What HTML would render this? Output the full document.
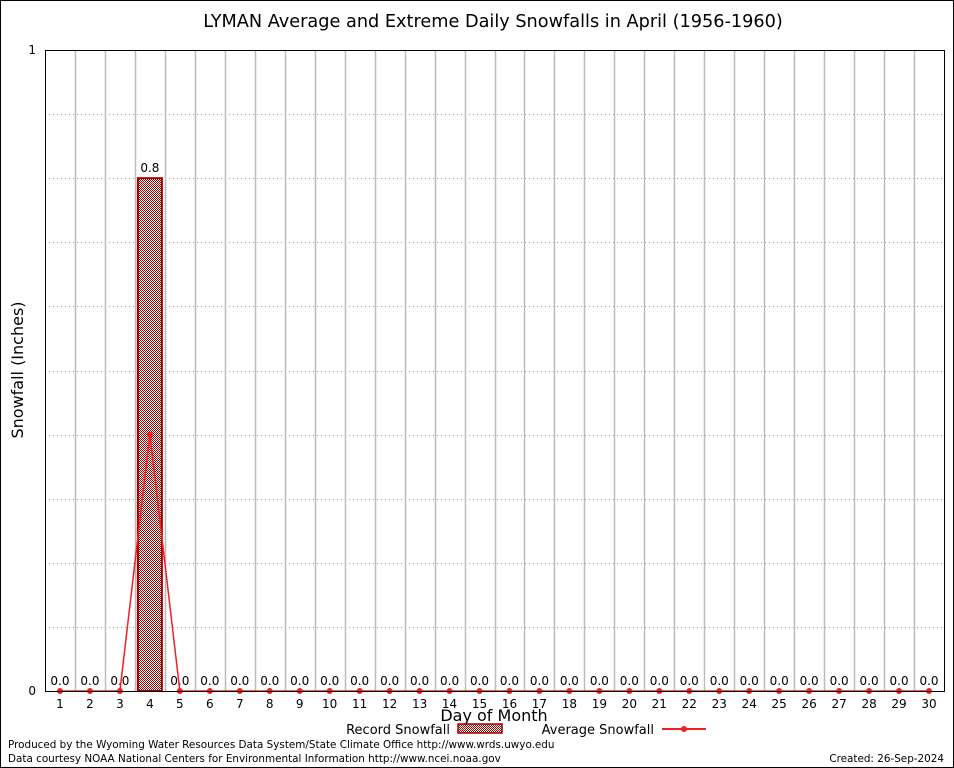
<!DOCTYPE html>
<html><head><meta charset="utf-8"><style>
html,body{margin:0;padding:0;background:#fff}
svg{display:block}
text{font-family:"DejaVu Sans","Liberation Sans",sans-serif}
</style></head><body>
<svg id="chart" width="954" height="768" viewBox="0 0 954 768">
<defs>
<pattern id="hatch" width="2" height="2" patternUnits="userSpaceOnUse">
<rect width="2" height="2" fill="#fff"/>
<rect x="0" y="0" width="1" height="1" fill="#a00000"/>
<rect x="1" y="1" width="1" height="1" fill="#a00000"/>
</pattern>
</defs>
<rect x="0.5" y="0.5" width="953" height="767" fill="#fff" stroke="#000"/>
<text x="493" y="27" font-size="17.7" text-anchor="middle">LYMAN Average and Extreme Daily Snowfalls in April (1956-1960)</text>
<g id="grid"></g>
<g id="bars"></g>
<g id="line"></g>
<rect x="45.5" y="50.5" width="899" height="641" fill="none" stroke="#000"/>
<text x="23" y="370" font-size="16" text-anchor="middle" transform="rotate(-90 23 370)">Snowfall (Inches)</text>
<text x="494" y="721" font-size="16" text-anchor="middle">Day of Month</text>
<g>
<text x="450" y="734" font-size="13" text-anchor="end">Record Snowfall</text>
<rect x="458" y="724" width="44" height="9" fill="url(#hatch)" stroke="#a00000" stroke-width="1.5"/>
<text x="654" y="734" font-size="13" text-anchor="end">Average Snowfall</text>
<line x1="662" y1="729" x2="706" y2="729" stroke="#f02020" stroke-width="2"/>
<circle cx="684" cy="729" r="3" fill="#f02020"/>
</g>
<text x="8" y="748" font-size="10.4">Produced by the Wyoming Water Resources Data System/State Climate Office http://www.wrds.uwyo.edu</text>
<text x="8" y="762" font-size="10.4">Data courtesy NOAA National Centers for Environmental Information http://www.ncei.noaa.gov</text>
<text x="944" y="762" font-size="10.4" text-anchor="end">Created:  26-Sep-2024</text>
</svg>
<script>
const days = [1,2,3,4,5,6,7,8,9,10,11,12,13,14,15,16,17,18,19,20,21,22,23,24,25,26,27,28,29,30];
const recordSnow = [0,0,0,0.8,0,0,0,0,0,0,0,0,0,0,0,0,0,0,0,0,0,0,0,0,0,0,0,0,0,0];
const avgSnow = [0,0,0,0.4,0,0,0,0,0,0,0,0,0,0,0,0,0,0,0,0,0,0,0,0,0,0,0,0,0,0];
const yTicks = [0,1];
const yMax = 1;
const NS = 'http://www.w3.org/2000/svg';
const L = 45, R = 944, T = 50, B = 691;
const bw = (R - L) / days.length;
function xs(d){ return L + (d - 0.5) * bw; }
function ys(v){ return B - v / yMax * (B - T); }
function mk(tag, attrs, parent){ const e = document.createElementNS(NS, tag); for (const k in attrs) e.setAttribute(k, attrs[k]); parent.appendChild(e); return e; }
const grid = document.getElementById('grid');
for (let k = 1; k < 10; k++) {
  const y = Math.round(ys(k / 10 * yMax)) + 0.5;
  const g = mk('line', {x1:L, x2:R, y1:y, y2:y, stroke:'#999', 'stroke-dasharray':'1,3'}, grid);
  
  
}
for (let i = 1; i < days.length; i++) {
  const x = Math.round(L + i * bw) + 0.5;
  const g = mk('line', {x1:x, x2:x, y1:T, y2:B, stroke:'#bbb', 'stroke-width':1.5}, grid);
  
  
}
yTicks.forEach(v => {
  const t = mk('text', {x:36, y:ys(v) + 4, 'font-size':12, 'text-anchor':'end', 'font-family':'"Liberation Serif","DejaVu Serif",serif'}, grid);
  t.textContent = v;
  
  
});
days.forEach(d => {
  const t = mk('text', {x:xs(d), y:708, 'font-size':12, 'text-anchor':'middle', 'font-family':'"Liberation Serif","DejaVu Serif",serif'}, grid);
  t.textContent = d;
  
  
});
const bars = document.getElementById('bars');
days.forEach((d, i) => {
  const v = recordSnow[i];
  if (v > 0) {
    const r = mk('rect', {x:xs(d) - 12, y:ys(v), width:24, height:B - ys(v), fill:'url(#hatch)', stroke:'#a00000', 'stroke-width':2}, bars);
    
    
  }
  const t = mk('text', {x:xs(d), y:ys(v) - 6, 'font-size':12, 'text-anchor':'middle'}, bars);
  t.textContent = v.toFixed(1);
  
  
});
const lg = document.getElementById('line');
const pts = days.map((d, i) => xs(d) + ',' + ys(avgSnow[i])).join(' ');
const pl = mk('polyline', {points:pts, fill:'none', stroke:'#f02020', 'stroke-width':1.5}, lg);


days.forEach((d, i) => {
  const c = mk('circle', {cx:xs(d), cy:ys(avgSnow[i]), r:3, fill:'#f02020'}, lg);
  
  
});
</script>
</body></html>
